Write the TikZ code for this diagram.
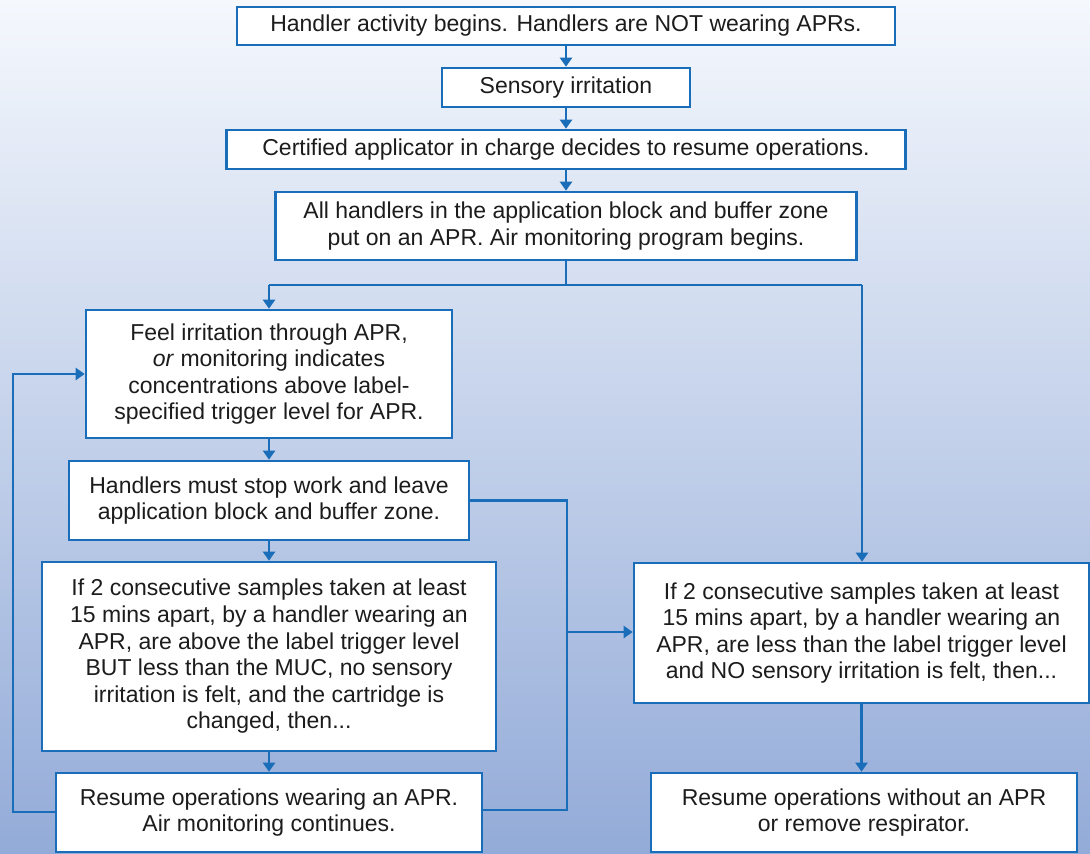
\documentclass[tikz,border=0pt]{standalone}
\usepackage{fontspec}
\setmainfont{Liberation Sans}
\usetikzlibrary{arrows.meta}
\definecolor{bordblue}{HTML}{1A6DB8}
\definecolor{bgtop}{HTML}{F5F8FD}
\definecolor{bgmid}{HTML}{C4D1EA}
\definecolor{bgbot}{HTML}{93ABD8}
\definecolor{txt}{HTML}{1C1C1C}
\begin{document}
\begin{tikzpicture}[x=1pt,y=-1pt,
  box/.style={draw=bordblue, line width=2.6pt, fill=white, inner sep=0pt, align=center, text=txt, font=\fontsize{23}{26.6}\selectfont},
  conn/.style={draw=bordblue, line width=2.2pt},
  arr/.style={conn, -{Triangle[width=12pt,length=9pt]}}]
\shade[top color=bgtop, middle color=bgmid, bottom color=bgbot] (0,0) rectangle (1090,854);
\useasboundingbox (0,0) rectangle (1090,854);

\node[box, minimum width=658pt, minimum height=38pt] (b1) at (566,26) {Handler activity begins. Handlers are NOT wearing APRs.};
\node[box, minimum width=248pt, minimum height=39pt] (b2) at (566,87.5) {Sensory irritation};
\node[box, minimum width=679pt, minimum height=39pt] (b3) at (566,149.5) {Certified applicator in charge decides to resume operations.};
\node[box, minimum width=581pt, minimum height=68pt] (b4) at (566,226) {All handlers in the application block and buffer zone\\put on an APR. Air monitoring program begins.};
\node[box, minimum width=366pt, minimum height=128pt] (b5) at (269,374) {Feel irritation through APR,\\\textit{or} monitoring indicates\\concentrations above label-\\specified trigger level for APR.};
\node[box, minimum width=400pt, minimum height=79pt] (b6) at (269,500.5) {Handlers must stop work and leave\\application block and buffer zone.};
\node[box, minimum width=454pt, minimum height=189pt] (b7) at (269,656.5) {If 2 consecutive samples taken at least\\15 mins apart, by a handler wearing an\\APR, are above the label trigger level\\BUT less than the MUC, no sensory\\irritation is felt, and the cartridge is\\changed, then...};
\node[box, minimum width=426pt, minimum height=79pt] (b8) at (269,812.5) {Resume operations wearing an APR.\\Air monitoring continues.};
\node[box, minimum width=455pt, minimum height=140pt] (b9) at (861.5,633) {If 2 consecutive samples taken at least\\15 mins apart, by a handler wearing an\\APR, are less than the label trigger level\\and NO sensory irritation is felt, then...};
\node[box, minimum width=426pt, minimum height=79pt] (b10) at (864,812.5) {Resume operations without an APR\\or remove respirator.};

\draw[arr] (b1.south) -- (b2.north);
\draw[arr] (b2.south) -- (b3.north);
\draw[arr] (b3.south) -- (b4.north);

\coordinate (split) at (566,285);
\coordinate (sl) at (269,285);
\coordinate (sr) at (862,285);
\draw[conn] (b4.south) -- (split);
\draw[conn] (sl) -- (sr);
\draw[arr] (sl) -- (b5.north);
\draw[arr] (sr) -- (sr |- b9.north);

\draw[arr] (b5.south) -- (b6.north);
\draw[arr] (b6.south) -- (b7.north);
\draw[arr] (b7.south) -- (b8.north);

\coordinate (rj) at (567,500.5);
\coordinate (rb) at (567,810);
\coordinate (rm) at (567,632);
\draw[conn] (b6.east) -- (rj) -- (rb) -- (rb -| b8.east);
\draw[arr] (rm) -- (rm -| b9.west);

\coordinate (lb) at (13,812);
\coordinate (lt) at (13,374);
\draw[arr] (lb -| b8.west) -- (lb) -- (lt) -- (b5.west);

\draw[arr] (b9.south) -- (b9.south |- b10.north);
\end{tikzpicture}
\end{document}
